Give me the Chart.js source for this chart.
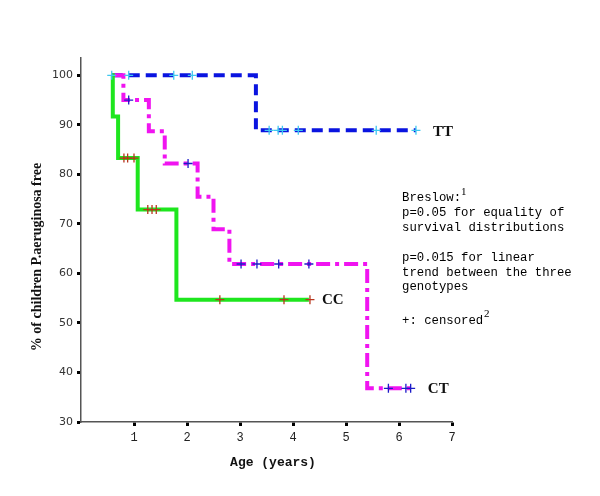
<!DOCTYPE html>
<html>
<head>
<meta charset="utf-8">
<script src="https://cdn.jsdelivr.net/npm/chart.js@4"></script>
<style>
  html, body { margin: 0; padding: 0; background: #fff; }
  #wrap { width: 600px; height: 496px; }
</style>
</head>
<body>
<div id="wrap"><canvas id="kmChart" width="600" height="496"></canvas></div>
<script>
// Kaplan-Meier steps: time (years) and % free after the step
const ttTimes = [0.58, 3.3, 6.32];
const ttValues = [100, 88.9, 88.9];
const ctTimes = [0.6, 0.8, 1.28, 1.58, 2.2, 2.5, 2.8, 5.4, 6.28];
const ctValues = [100, 95.0, 88.7, 82.2, 75.5, 68.9, 61.9, 36.8, 36.8];
const ccTimes = [0.58, 0.6, 0.7, 1.07, 1.8, 4.3];
const ccValues = [100, 91.7, 83.3, 72.9, 54.7, 54.7];

// censored observations
const ttCensTimes = [0.58, 0.9, 1.75, 2.1, 3.55, 3.72, 3.8, 4.1, 5.57, 6.32];
const ttCensValues = [100, 100, 100, 100, 88.9, 88.9, 88.9, 88.9, 88.9, 88.9];
const ctCensTimes = [0.9, 2.02, 3.02, 3.32, 3.73, 4.3, 5.8, 6.13, 6.22];
const ctCensValues = [95.0, 82.2, 61.9, 61.9, 61.9, 61.9, 36.8, 36.8, 36.8];
const ccCensTimes = [0.81, 0.88, 1.0, 1.26, 1.34, 1.42, 2.62, 3.83, 4.32];
const ccCensValues = [83.3, 83.3, 83.3, 72.9, 72.9, 72.9, 54.7, 54.7, 54.7];

const xTicks = [1, 2, 3, 4, 5, 6, 7];
const yTicks = [30, 40, 50, 60, 70, 80, 90, 100];

const pts = (xs, ys) => xs.map((x, i) => ({ x: x, y: ys[i] }));

function stepSet(label, xs, ys, color, dash) {
  return {
    label: label,
    data: pts(xs, ys),
    borderColor: color,
    borderWidth: 4,
    borderDash: dash,
    borderCapStyle: "butt",
    borderJoinStyle: "miter",
    stepped: true,
    pointRadius: 0,
    fill: false
  };
}

function censSet(label, xs, ys, color) {
  return {
    label: label,
    data: pts(xs, ys),
    showLine: false,
    pointStyle: "cross",
    pointRadius: 4.5,
    borderColor: color,
    borderWidth: 1.3,
    backgroundColor: color
  };
}

// text labels and Breslow note
const notes = {
  id: "notes",
  afterDraw(chart) {
    const ctx = chart.ctx;
    const xs = chart.scales.x;
    const ys = chart.scales.y;
    ctx.save();
    ctx.fillStyle = "#111";
    ctx.textBaseline = "middle";
    ctx.textAlign = "left";

    ctx.font = "bold 15px 'Liberation Serif'";
    ctx.fillText("TT", xs.getPixelForValue(6.32) + 17, ys.getPixelForValue(88.9) + 2);
    ctx.fillText("CC", xs.getPixelForValue(4.32) + 12, ys.getPixelForValue(54.7));
    ctx.fillText("CT", xs.getPixelForValue(6.28) + 14, ys.getPixelForValue(36.8) + 1);

    ctx.fillStyle = "#000";
    ctx.font = "12.3px 'Liberation Mono'";
    const lines = [
      ["Breslow:", 198],
      ["p=0.05 for equality of", 213],
      ["survival distributions", 228],
      ["p=0.015 for linear", 258],
      ["trend between the three", 273],
      ["genotypes", 287],
      ["+: censored", 321]
    ];
    lines.forEach(l => ctx.fillText(l[0], 402, l[1]));
    ctx.font = "11px 'Liberation Serif'";
    ctx.fillText("1", 461, 192);
    ctx.fillText("2", 484, 314);

    ctx.fillStyle = "#111";
    ctx.textAlign = "center";
    ctx.font = "bold 13px 'Liberation Mono'";
    ctx.fillText("Age (years)", 273, 463);

    ctx.translate(37, 257);
    ctx.rotate(-Math.PI / 2);
    ctx.font = "bold 14px 'Liberation Serif'";
    ctx.fillText("% of children P.aeruginosa free", 0, 0);
    ctx.restore();
  }
};

new Chart(document.getElementById("kmChart"), {
  type: "line",
  data: {
    datasets: [
      censSet("CC censored", ccCensTimes, ccCensValues, "#b8351c"),
      censSet("CT censored", ctCensTimes, ctCensValues, "#1c1cc8"),
      censSet("TT censored", ttCensTimes, ttCensValues, "#3fc8f0"),
      stepSet("CC", ccTimes, ccValues, "#1ee61e", []),
      stepSet("CT", ctTimes, ctValues, "#f014f0", [14, 5, 4, 5]),
      stepSet("TT", ttTimes, ttValues, "#0a14e0", [11, 6])
    ]
  },
  options: {
    responsive: false,
    animation: false,
    layout: { padding: { left: 0, right: 148, top: 58, bottom: 0 } },
    plugins: { legend: { display: false }, tooltip: { enabled: false } },
    scales: {
      x: {
        type: "linear",
        min: 0,
        max: 7,
        afterBuildTicks: s => { s.ticks = xTicks.map(v => ({ value: v })); },
        afterFit: s => { s.height = 74; },
        border: { display: true, color: "#555", width: 1.5 },
        grid: { drawOnChartArea: false, drawTicks: true, tickLength: 4, tickWidth: 3, tickColor: "#000" },
        ticks: { color: "#222", padding: 5, font: { family: "'Liberation Mono'", size: 12 } }
      },
      y: {
        type: "linear",
        min: 30,
        max: 103.5,
        afterBuildTicks: s => { s.ticks = yTicks.map(v => ({ value: v })); },
        afterFit: s => { s.width = 81; },
        border: { display: true, color: "#555", width: 1.5 },
        grid: { drawOnChartArea: false, drawTicks: true, tickLength: 4, tickWidth: 3, tickColor: "#000" },
        ticks: { color: "#333", padding: 4, font: { family: "'DejaVu Sans'", size: 11 } }
      }
    }
  },
  plugins: [notes]
});
</script>
</body>
</html>
